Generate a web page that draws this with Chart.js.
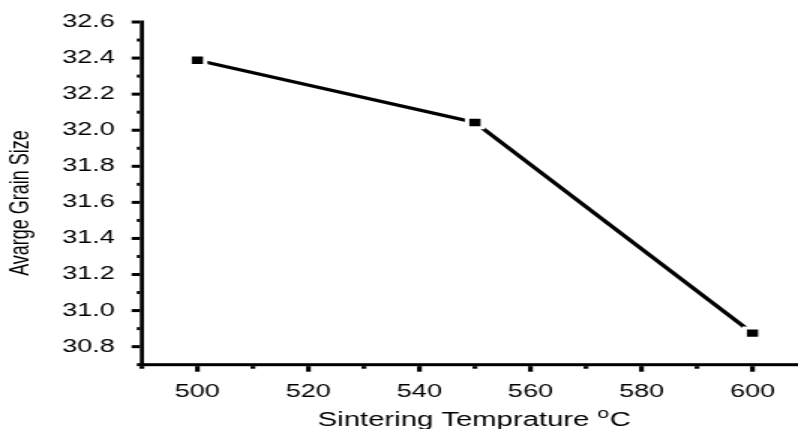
<!DOCTYPE html>
<html>
<head>
<meta charset="utf-8">
<script src="https://cdn.jsdelivr.net/npm/chart.js@4.4.1/dist/chart.umd.min.js"></script>
<style>
  html, body { margin: 0; padding: 0; background: #fff; overflow: hidden; }
  /* plot is laid out narrow and stretched sideways, like the exported figure */
  #wrap { position: relative; width: 532px; height: 429px; transform: scaleX(1.5); transform-origin: 0 0; }
  #c { display: block; }
</style>
</head>
<body>
<div id="wrap"><canvas id="c" width="532" height="429"></canvas></div>
<script>
// average grain size vs sintering temperature
const temps     = [500, 550, 600];
const grainSize = [32.388, 32.043, 30.875];

const xMajor = [500, 520, 540, 560, 580, 600];
const xMinor = [490, 510, 530, 550, 570, 590];
const yMajor = [30.8, 31.0, 31.2, 31.4, 31.6, 31.8, 32.0, 32.2, 32.4, 32.6];
const yMinor = [30.7, 30.9, 31.1, 31.3, 31.5, 31.7, 31.9, 32.1, 32.3, 32.5];

const xTitle = 'Sintering Temprature ';
const xUnitSup = 'o';
const xUnit = 'C';
const yTitle = 'Avarge Grain Size';

const FONT = '"Liberation Sans", Arial, Helvetica, sans-serif';

// axis lines and tick marks, origin style
const axesPlugin = {
  id: 'originAxes',
  beforeDatasetsDraw(chart) {
    const ctx = chart.ctx, a = chart.chartArea;
    const xs = chart.scales.x, ys = chart.scales.y;
    const top = ys.getPixelForValue(yMajor[yMajor.length - 1]);
    ctx.save();
    ctx.fillStyle = '#000';
    ctx.fillRect(a.left - 1.35, top - 1.5, 2.7, a.bottom - top + 3);
    ctx.fillRect(a.left - 1.35, a.bottom - 1.5, a.right - a.left + 1.35, 3);
    xMajor.forEach(function(v) {
      const px = xs.getPixelForValue(v);
      ctx.fillRect(px - 1.6, a.bottom + 1.5, 3.2, 5.5);
    });
    xMinor.forEach(function(v) {
      const px = xs.getPixelForValue(v);
      ctx.fillRect(px - 1.6, a.bottom + 1.5, 3.2, 2.5);
    });
    yMajor.forEach(function(v) {
      const py = ys.getPixelForValue(v);
      ctx.fillRect(a.left - 1.35 - 5.5, py - 1.5, 5.5, 3);
    });
    yMinor.forEach(function(v) {
      const py = ys.getPixelForValue(v);
      ctx.fillRect(a.left - 1.35 - 2, py - 1.5, 2, 3);
    });
    ctx.restore();
  },
  afterDraw(chart) {
    const ctx = chart.ctx;
    ctx.save();
    ctx.fillStyle = '#000';
    ctx.textBaseline = 'alphabetic';
    ctx.textAlign = 'left';
    // x title with raised "o" before C
    ctx.font = '19.5px ' + FONT;
    const w1 = ctx.measureText(xTitle).width;
    const w3 = ctx.measureText(xUnit).width;
    ctx.font = '14px ' + FONT;
    const w2 = ctx.measureText(xUnitSup).width;
    const x0 = 316 - (w1 + w2 + w3) / 2;
    ctx.font = '19.5px ' + FONT;
    ctx.fillText(xTitle, x0, 426);
    ctx.font = '14px ' + FONT;
    ctx.fillText(xUnitSup, x0 + w1, 418);
    ctx.font = '19.5px ' + FONT;
    ctx.fillText(xUnit, x0 + w1 + w2 + 0.5, 426);
    // y title
    ctx.translate(18.5, 203);
    ctx.rotate(-Math.PI / 2);
    ctx.textAlign = 'center';
    ctx.font = '18px ' + FONT;
    ctx.fillText(yTitle, 0, 0);
    ctx.restore();
  }
};

new Chart(document.getElementById('c'), {
  type: 'line',
  data: {
    datasets: [{
      data: temps.map(function(t, i) { return {x: t, y: grainSize[i]}; }),
      borderColor: '#000',
      borderWidth: 3.2,
      tension: 0,
      fill: false,
      pointStyle: 'rect',
      pointRadius: 7.4,
      pointBackgroundColor: '#000',
      pointBorderColor: '#fff',
      pointBorderWidth: 3,
      clip: false
    }]
  },
  options: {
    responsive: false,
    animation: false,
    devicePixelRatio: 1,
    events: [],
    layout: {autoPadding: false, padding: {left: 0, top: 22, right: 0, bottom: 0}},
    plugins: {legend: {display: false}, tooltip: {enabled: false}},
    scales: {
      x: {
        type: 'linear',
        min: 490,
        max: 608.2,
        grid: {display: false},
        border: {display: false},
        ticks: {
          color: '#000',
          font: {size: 18, family: FONT},
          padding: 9,
          maxRotation: 0,
          autoSkip: false,
          callback: function(v) { return String(v); }
        },
        afterBuildTicks: function(s) { s.ticks = xMajor.map(function(v) { return {value: v}; }); },
        afterFit: function(s) {
          s.height = 64.3;
          s.paddingLeft = 0;
          s.paddingRight = 0;
        }
      },
      y: {
        type: 'linear',
        min: 30.7,
        max: 32.6,
        grid: {display: false},
        border: {display: false},
        ticks: {
          color: '#000',
          font: {size: 18, family: FONT},
          padding: 10,
          autoSkip: false,
          callback: function(v) { return v.toFixed(1); }
        },
        afterBuildTicks: function(s) { s.ticks = yMajor.map(function(v) { return {value: v}; }); },
        afterFit: function(s) {
          s.width = 94.6;
          s.paddingTop = 0;
          s.paddingBottom = 0;
        }
      }
    }
  },
  plugins: [axesPlugin]
});
</script>
</body>
</html>
